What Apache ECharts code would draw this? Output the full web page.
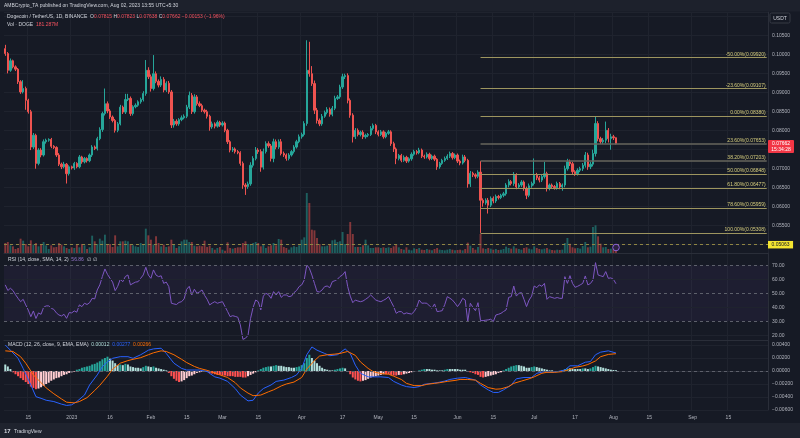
<!DOCTYPE html>
<html><head><meta charset="utf-8">
<script src="https://cdn.jsdelivr.net/npm/echarts@6/dist/echarts.min.js"></script>
<style>html,body{margin:0;padding:0;background:#161a25;}#c{width:800px;height:438px;}</style>
</head><body><div id="c"></div>
<script>
// ---------- DATA ----------
const startDate = '2022-12-06';
const dayCount = 299;            // Dec 6 2022 .. Sep 30 2023 (axis range)
const firstOpen = 0.1016;
const closes = [
0.1003,0.0959,0.0984,0.0968,0.0962,0.0929,0.0902,0.0911,0.0880,0.0850,
0.0757,0.0788,0.0714,0.0749,0.0736,0.0771,0.0775,0.0777,0.0759,0.0756,
0.0736,0.0712,0.0705,0.0712,0.0687,0.0705,0.0702,0.0714,0.0705,0.0731,
0.0718,0.0727,0.0721,0.0736,0.0757,0.0753,0.0779,0.0803,0.0845,0.0871,
0.0852,0.0836,0.0827,0.0801,0.0818,0.0862,0.0849,0.0882,0.0885,0.0845,
0.0863,0.0867,0.0876,0.0882,0.0898,0.0959,0.0942,0.0911,0.0950,0.0930,
0.0920,0.0935,0.0907,0.0925,0.0902,0.0815,0.0825,0.0818,0.0829,0.0834,
0.0838,0.0862,0.0893,0.0850,0.0889,0.0871,0.0866,0.0854,0.0850,0.0838,
0.0810,0.0818,0.0812,0.0822,0.0815,0.0820,0.0801,0.0771,0.0749,0.0752,
0.0745,0.0742,0.0714,0.0657,0.0653,0.0660,0.0709,0.0727,0.0749,0.0745,
0.0704,0.0745,0.0766,0.0760,0.0727,0.0771,0.0757,0.0771,0.0740,0.0736,
0.0727,0.0736,0.0745,0.0757,0.0771,0.0784,0.0790,0.0819,0.0959,0.0950,
0.0924,0.0854,0.0827,0.0818,0.0838,0.0848,0.0856,0.0843,0.0859,0.0885,
0.0889,0.0915,0.0942,0.0945,0.0880,0.0841,0.0784,0.0801,0.0790,0.0796,
0.0784,0.0788,0.0790,0.0806,0.0814,0.0797,0.0790,0.0797,0.0784,0.0793,
0.0797,0.0766,0.0752,0.0727,0.0735,0.0722,0.0730,0.0720,0.0726,0.0738,
0.0745,0.0742,0.0749,0.0733,0.0731,0.0738,0.0727,0.0733,0.0725,0.0705,
0.0714,0.0722,0.0727,0.0733,0.0740,0.0729,0.0736,0.0720,0.0715,0.0731,
0.0722,0.0660,0.0688,0.0684,0.0680,0.0691,0.0617,0.0610,0.0617,0.0604,
0.0622,0.0615,0.0627,0.0624,0.0630,0.0634,0.0657,0.0666,0.0661,0.0683,
0.0652,0.0657,0.0665,0.0648,0.0630,0.0655,0.0661,0.0683,0.0676,0.0670,
0.0679,0.0687,0.0648,0.0657,0.0653,0.0650,0.0661,0.0652,0.0657,0.0700,
0.0718,0.0713,0.0692,0.0687,0.0696,0.0700,0.0709,0.0736,0.0705,0.0712,
0.0740,0.0819,0.0779,0.0771,0.0775,0.0801,0.0779,0.0784,0.07815,0.07662];
// wick lengths above / below the body, in units of 0.0001 USDT
const upperWick = [
10,4,6,3,4,3,4,22,5,4, 5,6,4,5,5,6,4,3,4,3, 3,5,4,6,3,4,3,4,3,5, 3,4,3,4,5,4,5,6,5,40,
6,5,4,4,5,6,4,15,12,5, 4,5,4,5,6,27,8,6,49,6, 5,8,6,5,6,5,6,5,4,6, 5,6,10,6,7,5,6,5,4,5,
4,6,4,5,4,5,4,4,4,5, 4,4,4,5,5,6,8,6,8,5, 6,8,6,6,5,8,6,6,7,5, 4,5,4,5,5,6,5,6,79,75,
20,8,6,5,6,5,6,5,6,7, 5,6,8,5,6,5,5,6,5,4, 5,4,4,6,5,4,4,5,4,4, 5,4,5,4,4,4,5,4,4,5,
5,4,6,4,4,5,4,4,4,3, 4,4,5,5,5,4,4,4,4,6, 5,4,6,4,4,5,29,5,5,6, 5,5,5,4,4,5,5,6,4,8,
5,5,5,4,5,6,5,44,6,5, 5,31,5,4,4,4,5,4,4,8, 8,6,5,4,5,5,6,8,6,6, 10,19,6,5,6,23,6,8,5,0.8];
const lowerWick = [
6,8,4,4,5,6,5,4,25,5, 8,5,14,5,6,4,5,4,5,4, 5,5,6,4,26,5,4,5,4,4, 5,4,5,4,5,4,5,4,6,5,
6,5,5,6,5,4,5,5,4,6, 5,4,4,5,5,6,6,8,5,5, 6,5,6,5,5,8,7,5,5,4, 4,5,5,6,5,5,4,5,5,6,
10,5,6,4,5,4,5,6,6,5, 5,4,6,10,22,6,5,6,5,6, 12,6,5,5,8,10,6,5,5,5, 6,5,4,5,4,4,5,5,6,8,
6,10,8,6,5,4,5,6,5,5, 4,5,5,6,8,7,15,6,5,5, 6,5,5,4,5,6,5,4,5,4, 4,6,8,15,5,5,4,5,4,5,
4,5,4,5,5,4,5,4,5,8, 5,4,4,4,5,5,4,5,6,4, 5,10,8,6,6,5,86,10,5,22, 5,6,5,5,4,5,5,6,5,6,
6,5,5,6,10,5,5,5,6,6, 5,5,8,5,5,5,5,6,10,6, 5,6,6,6,5,5,6,6,8,6, 6,8,7,6,6,8,10,29,6,2.4];
// volume, millions of DOGE
const volumes = [
600,660,460,400,240,300,860,740,540,400, 760,500,600,400,500,660,460,240,460,340,
360,600,500,400,300,240,340,300,500,340, 540,460,240,340,1040,700,540,860,740,1100,
540,540,360,1060,400,700,700,740,700,540, 460,400,360,600,500,1460,1060,800,500,1000,
600,400,500,360,400,800,540,300,400,700, 800,800,660,660,440,400,440,400,740,360,
440,300,200,300,360,200,140,640,300,260, 300,340,340,600,700,540,540,600,660,600,
400,540,300,400,460,600,460,840,800,360, 300,200,340,400,360,460,800,940,3600,3000,
1400,1360,900,540,400,400,440,540,760,800, 660,700,1260,540,1140,1860,1140,360,360,360,
460,800,460,300,300,340,340,300,340,300, 340,300,400,500,340,240,200,340,200,160,
280,240,300,200,180,240,200,160,240,300, 200,180,160,200,240,200,160,180,200,160,
240,620,440,300,200,360,1140,280,240,300, 260,200,240,180,200,240,380,300,260,400,
280,240,200,300,340,260,220,400,300,240, 220,260,300,220,180,160,200,180,200,600,
900,560,340,280,300,260,420,660,340,380, 1560,1660,1000,560,340,360,240,260,220,181.287];
const rsiValues = [
56,52,53.6,52,49,46.4,44,45.7,41.7,38, 33.3,37.4,32,36,35,40,41,41,39.3,38.5,
36,34.5,33.8,35,32.1,36.2,36,37.4,36.5,41.7, 40.5,42.9,42,43.3,46.4,46,52.4,56,62,67.4,
63.5,60.7,58,51.9,55,60,58.3,62,63.1,56, 57.1,58,58.3,60.7,63.1,68.6,63,60.7,66.7,63,
61.9,62.5,57.1,58,54.8,42.9,42.4,42,43.5,44, 46,52.9,55,48.8,52.9,50,51,52.4,48.5,45.7,
41.7,43,44,42.9,43.5,44,40.5,37,33.3,34, 33.5,32.9,27.4,17.1,17.9,20,32.1,40,45.2,44,
38.1,48,50,49,46.4,51.2,48.8,51.2,47.1,48.8, 48.8,47.6,48,50.5,52,54.8,56,59.5,70.2,67.9,
63,57.1,51.2,51,52.4,54.8,55.2,54,58.3,59, 60,62,63.1,65.5,54.8,48,43.3,45.2,44.5,44,
44.5,45.7,47,48.8,47,45.2,44.5,44,45,46, 47.6,44,40.5,35.7,36.9,36.9,35.2,36,35.5,35.2,
36.9,40,45.2,42.9,43,42.9,41,39.3,42.4,36.9, 37.2,37.6,42,47.6,46.5,45.2,43,40.5,43,46.4,
45.2,29.8,42.9,40,37.6,43.3,30.5,30.5,30.8,31, 31.5,29.8,34.5,35,35.7,37,38.1,47.1,47.6,55.2,
48,50,50.5,45.7,40.5,45.2,48,55.2,54,56, 55,57.1,45.7,47.6,47,46.4,47,46.4,46.4,61.9,
57.1,62.6,57.1,54.3,55,56,57.1,62.4,56,57, 59.5,71.9,63.1,62.5,61.9,65.5,60.7,61,60,56.86];
// MACD line and signal line, read at [day index, value]
const macdPoints = [[0,0.0040],[2,0.0032],[5,0.00195],[7,0.0004],[10,-0.00215],[12,-0.00395],[14,-0.0042],[16,-0.0045],[19,-0.0047],[22,-0.0051],[24,-0.0053],[26,-0.0052],[28,-0.0047],[31,-0.0037],[33,-0.00215],[36,-0.0006],[38,0.00067],[40,0.0014],[42,0.00195],[45,0.0022],[48,0.0022],[50,0.00195],[53,0.0025],[56,0.0032],[58,0.0034],[61,0.0035],[63,0.0027],[66,0.0012],[69,0.0004],[71,0.00015],[74,0.00015],[76,0.00015],[79,-0.0001],[82,-0.0009],[84,-0.0011],[87,-0.0016],[90,-0.0027],[92,-0.0037],[95,-0.0046],[97,-0.0045],[99,-0.0034],[101,-0.0027],[104,-0.00215],[106,-0.0016],[109,-0.0014],[112,-0.0010],[114,-0.0006],[116,0.0004],[118,0.0025],[120,0.0037],[122,0.0032],[125,0.0027],[127,0.00235],[130,0.0025],[133,0.0034],[135,0.0027],[137,0.0009],[139,-0.00035],[142,-0.0009],[144,-0.0009],[147,-0.0009],[150,-0.0010],[152,-0.0016],[155,-0.00215],[157,-0.0024],[160,-0.00255],[162,-0.0024],[164,-0.00205],[167,-0.0019],[169,-0.0018],[172,-0.00155],[174,-0.0013],[177,-0.0011],[180,-0.0010],[181,-0.0011],[184,-0.0014],[186,-0.00215],[189,-0.0029],[191,-0.0033],[193,-0.0033],[195,-0.0029],[198,-0.00215],[200,-0.0012],[203,-0.0010],[206,-0.0010],[208,-0.00035],[211,-0.0001],[214,-0.0002],[216,-0.0001],[219,0.00015],[221,0.0008],[224,0.0008],[227,0.00135],[229,0.00145],[231,0.0025],[233,0.0029],[236,0.0031],[239,0.00277]];
const signalPoints = [[0,0.0031],[3,0.0030],[6,0.0022],[8,0.0012],[11,-0.0006],[14,-0.0018],[16,-0.0026],[19,-0.0035],[22,-0.0043],[24,-0.0048],[27,-0.0049],[29,-0.0047],[32,-0.0041],[35,-0.0030],[37,-0.0022],[40,-0.0008],[42,0.0003],[45,0.0012],[48,0.0016],[50,0.0018],[53,0.00205],[56,0.0025],[58,0.0028],[61,0.0031],[63,0.0030],[66,0.0025],[69,0.0018],[71,0.0013],[74,0.0007],[76,0.0004],[79,0.0001],[82,-0.0003],[84,-0.0006],[87,-0.0010],[90,-0.0018],[92,-0.0026],[95,-0.0034],[97,-0.0038],[100,-0.0037],[103,-0.0032],[105,-0.0029],[108,-0.0023],[110,-0.0020],[113,-0.0017],[116,-0.0010],[118,0.0003],[121,0.0016],[123,0.0023],[126,0.0025],[129,0.0026],[131,0.0027],[134,0.0030],[137,0.0024],[139,0.0014],[142,0.0004],[144,-0.0001],[147,-0.0004],[150,-0.0005],[152,-0.0008],[155,-0.0013],[157,-0.0019],[160,-0.00225],[163,-0.00225],[165,-0.00205],[168,-0.0019],[170,-0.0018],[173,-0.0016],[176,-0.00145],[178,-0.0013],[181,-0.0013],[184,-0.0014],[186,-0.0019],[189,-0.00255],[192,-0.0028],[194,-0.00275],[197,-0.0024],[199,-0.0019],[202,-0.00155],[205,-0.0012],[207,-0.0009],[210,-0.00035],[212,-0.0002],[215,-0.0002],[218,-0.0001],[221,0.00026],[223,0.00056],[226,0.00077],[228,0.0010],[231,0.00155],[233,0.0022],[236,0.00255],[239,0.00266]];
const histValues = [
0.0010,0.0007,0.0003,-0.0002,-0.0005,-0.0008,-0.0011,-0.0014,-0.0017,-0.0020,
-0.0024,-0.0026,-0.0028,-0.0027,-0.0025,-0.0023,-0.0020,-0.0018,-0.0015,-0.0013,
-0.0011,-0.0010,-0.0008,-0.0006,-0.0005,-0.0003,-0.0002,-0.0001,0.0002,0.0003,
0.0005,0.0006,0.0007,0.0008,0.0010,0.0011,0.0013,0.0015,0.0018,0.0020,
0.0022,0.0019,0.0016,0.0012,0.0009,0.0010,0.0009,0.0011,0.0010,0.0007,
0.0006,0.0005,0.0005,0.0004,0.0006,0.0008,0.0007,0.0006,0.0007,0.0005,
0.0004,0.0003,0.0002,0.0001,-0.0003,-0.0008,-0.0012,-0.0015,-0.0017,-0.0016,
-0.0014,-0.0011,-0.0008,-0.0007,-0.0005,-0.0003,-0.0002,-0.0001,0.00005,-0.0001,
-0.0003,-0.0004,-0.0005,-0.0006,-0.0006,-0.0007,-0.0007,-0.0008,-0.0008,-0.0008,
-0.0009,-0.0009,-0.0009,-0.0010,-0.0010,-0.0008,-0.0006,-0.0004,-0.0002,0.0001,
0.0003,0.0005,0.0006,0.0007,0.0007,0.0008,0.0009,0.0008,0.0008,0.0007,
0.0006,0.0006,0.0005,0.0005,0.0006,0.0007,0.0009,0.0012,0.0020,0.0025,
0.0020,0.0016,0.0012,0.0008,0.0005,0.0003,0.0002,0.0001,0.0001,0.0002,
0.0003,0.0004,0.0005,0.0004,0.0000,-0.0005,-0.0010,-0.0013,-0.0015,-0.0016,
-0.0015,-0.0014,-0.0012,-0.0010,-0.0009,-0.0008,-0.0007,-0.0006,-0.0005,-0.0005,
-0.0005,-0.0006,-0.0007,-0.0007,-0.0006,-0.0006,-0.0005,-0.0004,-0.0003,-0.0002,
-0.0001,0.0000,0.0001,0.0002,0.0003,0.0003,0.0003,0.0002,0.0002,0.0001,
0.0001,0.0001,0.0002,0.0003,0.0003,0.0003,0.0003,0.0003,0.0002,0.0002,
0.0002,-0.0001,-0.0002,-0.0003,-0.0005,-0.0006,-0.0009,-0.0010,-0.0009,-0.0008,
-0.0007,-0.0006,-0.0005,-0.0003,-0.0002,0.0001,0.0003,0.0005,0.0007,0.0008,
0.0009,0.0009,0.0008,0.0007,0.0005,0.0005,0.0006,0.0007,0.0006,0.0005,
0.0004,0.0003,0.0002,0.0001,0.0001,0.0000,-0.00005,0.0000,0.0001,0.0003,
0.0004,0.0004,0.0003,0.0003,0.0003,0.0003,0.0004,0.0004,0.0003,0.0004,
0.0006,0.0008,0.0007,0.0006,0.0005,0.0004,0.0003,0.0002,0.00015,0.00012];
const fibStartDate = '2023-06-10';
const fibLevels = ['-50.00%','-23.60%','0.00%','23.60%','38.20%','50.00%','61.80%','78.60%','100.00%'];
const fibPrices = [0.09920,0.09107,0.08380,0.07653,0.07203,0.06848,0.06477,0.05959,0.05308];
const alertPrice = 0.05063;
const countdown = '15:34:28';
const rsiTicks = [20,30,40,50,60,70];
const tickDates = ['2022-12-15','2023-01-01','2023-01-16','2023-02-01','2023-02-15','2023-03-01','2023-03-15','2023-04-01','2023-04-17','2023-05-01','2023-05-15','2023-06-01','2023-06-15','2023-07-01','2023-07-17','2023-08-01','2023-08-15','2023-09-01','2023-09-15'];
const tickTexts = ['15','2023','16','Feb','15','Mar','15','Apr','17','May','15','Jun','15','Jul','17','Aug','15','Sep','15'];

// ---------- BUILD ----------
const dates = [];
const d0 = Date.parse(startDate + 'T00:00:00Z');
for (let k = 0; k < dayCount; k++) dates.push(new Date(d0 + k * 86400000).toISOString().slice(0, 10));
const tickMap = {}; tickDates.forEach((d, k) => tickMap[d] = tickTexts[k]);
const isTick = (i, v) => tickMap[v] !== undefined;

const candles = closes.map((c, k) => {
  const o = k === 0 ? firstOpen : closes[k - 1];
  return [o, c, Math.min(o, c) - lowerWick[k] * 1e-4, Math.max(o, c) + upperWick[k] * 1e-4];
});
const UP = '#26a69a', DOWN = '#ef5350';
const volData = volumes.map((v, k) => ({ value: v, itemStyle: { color: candles[k][1] >= candles[k][0] ? 'rgba(38,166,154,0.5)' : 'rgba(239,83,80,0.5)' } }));
const histData = histValues.map((h, k) => {
  const prev = k > 0 ? histValues[k - 1] : h;
  let col;
  if (h >= 0) col = h > prev ? '#26a69a' : '#b2dfdb';
  else col = h > prev ? '#ffcdd2' : '#ff5252';
  return { value: h, itemStyle: { color: col } };
});
const fibStart = dates.indexOf(fibStartDate);
const fibEnd = dates.length - 1;
const fibLines = fibPrices.map((p, k) => {
  const grey = (k === 3 || k === 4);
  return [
    { coord: [fibStart, p], lineStyle: { color: grey ? '#67665c' : '#9d955f', width: grey ? 1.6 : 1, type: 'solid' },
      label: { show: true, position: 'insideEndTop', distance: 1, formatter: fibLevels[k] + '(' + p.toFixed(5) + ')', color: '#d8cf7e', fontSize: 5 } },
    { coord: [fibEnd, p] }
  ];
});
const last = candles[candles.length - 1];
const chg = last[1] - last[0];
const pct = chg / last[0] * 100;
const sgn = v => (v < 0 ? '−' : '');
const FONT = 'Liberation Sans, Arial, sans-serif';
const GRIDC = '#1f232e';
const AXC = '#b2b5be';

function xAx(gi, opts) {
  return {
    type: 'category', gridIndex: gi, data: dates, boundaryGap: true,
    axisLine: { show: !!opts.line, lineStyle: { color: '#2a2e39' } },
    axisTick: { show: false },
    axisLabel: { show: !!opts.label, interval: isTick, formatter: v => tickMap[v] || '', color: AXC, fontSize: 5, margin: 5, fontFamily: FONT },
    splitLine: { show: !!opts.split, interval: isTick, lineStyle: { color: GRIDC, width: 1 } }
  };
}
const L = 4, W = 764;
const option = {
  backgroundColor: '#161a25',
  animation: false,
  textStyle: { fontFamily: FONT },
  grid: [
    { left: L, width: W, top: 12, height: 232.7 },
    { left: L, width: W, top: 153, height: 100 },
    { left: L, width: W, top: 253, height: 87 },
    { left: L, width: W, top: 340, height: 70 }
  ],
  xAxis: [xAx(0, { split: true }), xAx(1, { line: true, split: true }), xAx(2, { line: true, split: true }), xAx(3, { line: true, split: true, label: true })],
  yAxis: [
    { type: 'value', gridIndex: 0, position: 'right', min: 0.05, max: 0.11124, interval: 0.005,
      axisLine: { show: true, lineStyle: { color: '#2a2e39' } }, axisTick: { show: false },
      axisLabel: { color: AXC, fontSize: 5, margin: 4, showMaxLabel: false, formatter: v => Math.abs(v / 0.005 - Math.round(v / 0.005)) < 1e-6 ? v.toFixed(5) : '' },
      splitLine: { show: true, lineStyle: { color: GRIDC } } },
    { type: 'value', gridIndex: 1, min: 0, max: 6000, show: false },
    { type: 'value', gridIndex: 2, position: 'right', min: 16.64, max: 78.79,
      axisLine: { show: true, lineStyle: { color: '#2a2e39' } }, axisTick: { show: false, customValues: rsiTicks },
      axisLabel: { color: AXC, fontSize: 5, margin: 4, customValues: rsiTicks, formatter: v => v.toFixed(2) },
      splitLine: { show: false } },
    { type: 'value', gridIndex: 3, position: 'right', min: -0.006, max: 0.004769, interval: 0.002,
      axisLine: { show: true, lineStyle: { color: '#2a2e39' } }, axisTick: { show: false },
      axisLabel: { color: AXC, fontSize: 5, margin: 4, showMaxLabel: false, formatter: v => Math.abs(v / 0.002 - Math.round(v / 0.002)) < 1e-6 ? (v < -1e-9 ? '−' : '') + Math.abs(v).toFixed(5) : '' },
      splitLine: { show: true, lineStyle: { color: GRIDC } } }
  ],
  series: [
    { type: 'bar', name: 'Volume', xAxisIndex: 1, yAxisIndex: 1, data: volData, barWidth: '75%', z: 1, silent: true },
    { type: 'candlestick', name: 'DOGEUSDT', xAxisIndex: 0, yAxisIndex: 0, data: candles, barWidth: '70%', z: 3,
      itemStyle: { color: UP, color0: DOWN, borderColor: UP, borderColor0: DOWN, borderWidth: 1 },
      markLine: { silent: true, symbol: 'none', animation: false,
        data: fibLines.concat([
          { yAxis: alertPrice, lineStyle: { color: '#8f8543', type: [3, 3], width: 1 },
            label: { show: true, position: 'end', distance: 0, formatter: alertPrice.toFixed(5), color: '#131722', backgroundColor: '#f4e531', padding: [1.5, 3.5, 1, 3.5], fontSize: 5 } }
        ]) } },
    { type: 'line', name: 'RSI', xAxisIndex: 2, yAxisIndex: 2, data: rsiValues, symbol: 'none', lineStyle: { color: '#7e57c2', width: 1 }, z: 3,
      markArea: { silent: true, itemStyle: { color: 'rgba(126,87,194,0.08)' }, data: [[{ yAxis: 30 }, { yAxis: 70 }]] },
      markLine: { silent: true, symbol: 'none', label: { show: false },
        data: [
          { yAxis: 70, lineStyle: { color: '#5d606b', type: [3, 3], width: 1 } },
          { yAxis: 50, lineStyle: { color: '#5d606b', type: [3, 3], width: 1 } },
          { yAxis: 30, lineStyle: { color: '#5d606b', type: [3, 3], width: 1 } },
          { yAxis: 60, lineStyle: { color: GRIDC, type: 'solid', width: 1 } },
          { yAxis: 40, lineStyle: { color: GRIDC, type: 'solid', width: 1 } },
          { yAxis: 20, lineStyle: { color: GRIDC, type: 'solid', width: 1 } }
        ] } },
    { type: 'bar', name: 'Histogram', xAxisIndex: 3, yAxisIndex: 3, data: histData, barWidth: '78%', z: 2,
      markLine: { silent: true, symbol: 'none', label: { show: false }, data: [{ yAxis: 0, lineStyle: { color: '#5d606b', type: [3, 3], width: 1 } }] } },
    { type: 'line', name: 'MACD', xAxisIndex: 3, yAxisIndex: 3, data: macdPoints, symbol: 'none', lineStyle: { color: '#2962ff', width: 1 }, z: 4 },
    { type: 'line', name: 'Signal', xAxisIndex: 3, yAxisIndex: 3, data: signalPoints, symbol: 'none', lineStyle: { color: '#ff6d00', width: 1 }, z: 4 }
  ],
  graphic: [
    { type: 'rect', z: 50, shape: { x: 0, y: 0, width: 800, height: 11.5 }, style: { fill: '#1d212c' } },
    { type: 'text', z: 51, x: 4, y: 6, style: { text: 'AMBCrypto_TA published on TradingView.com, Aug 02, 2023 13:55 UTC+5:30', fill: '#d1d4dc', font: '5px ' + FONT, verticalAlign: 'middle' } },
    { type: 'text', z: 51, x: 7, y: 16.7, style: {
        text: '{n|Dogecoin / TetherUS, 1D, BINANCE}  {l|O}{v|' + last[0].toFixed(5) + '} {l|H}{v|' + last[3].toFixed(5) + '} {l|L}{v|' + last[2].toFixed(5) + '} {l|C}{v|' + last[1].toFixed(5) + '} {v|' + sgn(chg) + Math.abs(chg).toFixed(5) + ' (' + sgn(pct) + Math.abs(pct).toFixed(2) + '%)}',
        font: '5px ' + FONT, verticalAlign: 'middle', fill: '#d1d4dc',
        rich: { n: { fill: '#d1d4dc', color: '#d1d4dc', fontSize: 5 }, l: { fill: '#d1d4dc', color: '#d1d4dc', fontSize: 5 }, v: { fill: '#f7525f', color: '#f7525f', fontSize: 5 } } } },
    { type: 'text', z: 51, x: 7, y: 24.3, style: {
        text: '{l|Vol · DOGE}  {v|' + volumes[volumes.length - 1].toFixed(3) + 'M}', font: '5px ' + FONT, verticalAlign: 'middle',
        rich: { l: { fill: '#d1d4dc', color: '#d1d4dc', fontSize: 5 }, v: { fill: '#f7525f', color: '#f7525f', fontSize: 5 } } } },
    { type: 'text', z: 51, x: 8, y: 260, style: {
        text: '{l|RSI (14, close, SMA, 14, 2)}  {v|' + rsiValues[rsiValues.length - 1].toFixed(2) + '}  {l|∅  ∅}', font: '5px ' + FONT, verticalAlign: 'middle',
        rich: { l: { fill: '#d1d4dc', color: '#d1d4dc', fontSize: 5 }, v: { fill: '#9575cd', color: '#9575cd', fontSize: 5 } } } },
    { type: 'text', z: 51, x: 8, y: 344.3, style: {
        text: '{l|MACD (12, 26, close, 9, EMA, EMA)}  {h|' + histValues[histValues.length - 1].toFixed(5) + '}  {m|' + macdPoints[macdPoints.length - 1][1].toFixed(5) + '}  {s|' + signalPoints[signalPoints.length - 1][1].toFixed(5) + '}',
        font: '5px ' + FONT, verticalAlign: 'middle',
        rich: { l: { fill: '#d1d4dc', color: '#d1d4dc', fontSize: 5 }, h: { fill: '#b2dfdb', color: '#b2dfdb', fontSize: 5 }, m: { fill: '#2962ff', color: '#2962ff', fontSize: 5 }, s: { fill: '#ff6d00', color: '#ff6d00', fontSize: 5 } } } },
    { type: 'rect', z: 60, shape: { x: 770, y: 13, width: 20, height: 10, r: 1.5 }, style: { fill: '#161a25', stroke: '#363a45', lineWidth: 1 } },
    { type: 'text', z: 61, x: 780, y: 18.2, style: { text: 'USDT', fill: '#d1d4dc', font: '5px ' + FONT, align: 'center', verticalAlign: 'middle' } },
    { type: 'circle', z: 55, shape: { cx: 616, cy: 247.5, r: 3.3 }, style: { fill: '#2b2140', stroke: '#8e62d9', lineWidth: 1 } },
    { type: 'rect', z: 50, shape: { x: 0, y: 423, width: 800, height: 15 }, style: { fill: '#1f232e' } },
    { type: 'text', z: 51, x: 4, y: 431.5, style: { text: '17', fill: '#d1d4dc', font: 'bold 6px ' + FONT, verticalAlign: 'middle' } },
    { type: 'text', z: 51, x: 14, y: 431.5, style: { text: 'TradingView', fill: '#d1d4dc', font: '5px ' + FONT, verticalAlign: 'middle' } }
  ]
};
const chart = echarts.init(document.getElementById('c'), null, { renderer: 'canvas', width: 800, height: 438 });
chart.setOption(option);
// last-price tag on the price scale, placed through the y axis scale
const py = chart.convertToPixel({ yAxisIndex: 0 }, last[1]);
const ax = L + W;
option.graphic.push(
  { type: 'rect', z: 70, shape: { x: ax, y: py - 3.6, width: 26, height: 13, r: 1 }, style: { fill: '#f23645' } },
  { type: 'text', z: 71, x: ax + 13, y: py, style: { text: last[1].toFixed(5), fill: '#ffffff', font: '5px ' + FONT, align: 'center', verticalAlign: 'middle' } },
  { type: 'text', z: 71, x: ax + 13, y: py + 6, style: { text: countdown, fill: '#ffffff', font: '5px ' + FONT, align: 'center', verticalAlign: 'middle' } }
);
chart.setOption({ graphic: option.graphic });
</script>
</body></html>
